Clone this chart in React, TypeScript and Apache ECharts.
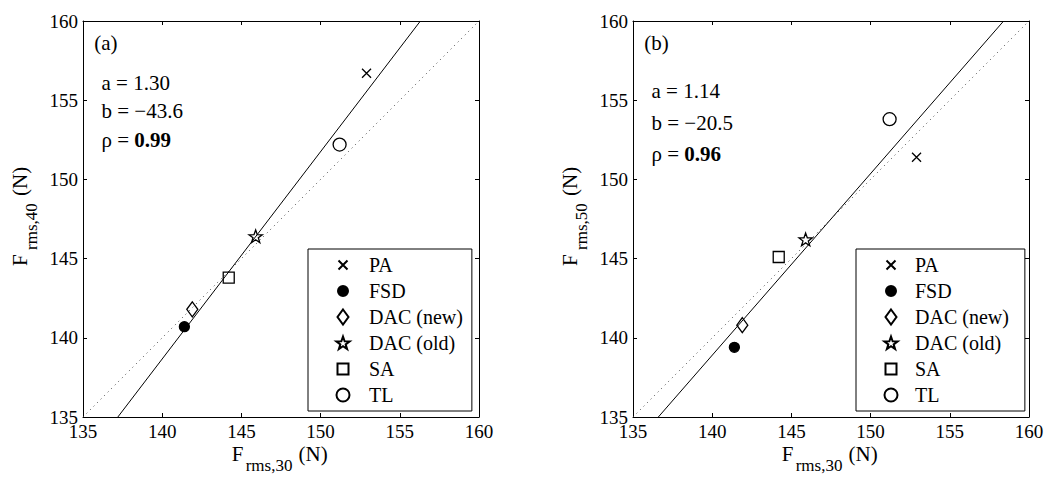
import React, { useEffect, useRef } from 'react';
import * as echarts from 'echarts';

// ---------- data ----------
const methods = ['PA', 'FSD', 'DAC (new)', 'DAC (old)', 'SA', 'TL'];
const frms30 = [152.9, 141.4, 141.9, 145.9, 144.2, 151.2];
const frms40 = [156.7, 140.7, 141.8, 146.4, 143.8, 152.2];
const frms50 = [151.4, 139.4, 140.8, 146.2, 145.1, 153.8];
const fitLine40 = [[137.2, 135], [156.3, 160]];
const fitLine50 = [[136.6, 135], [158.4, 160]];
const identityLine = [[135, 135], [160, 160]];
const axisTicks = [135, 140, 145, 150, 155, 160];
const panelLetters = ['(a)', '(b)'];
const slopeLabels = ['1.30', '1.14'];
const interceptLabels = ['\u221243.6', '\u221220.5'];
const rhoLabels = ['0.99', '0.96'];
const yNameSubs = ['rms,40', 'rms,50'];
const xNameSub = 'rms,30';

// ---------- styling ----------
const FONT = 'Liberation Serif';
const PAD = 'M0,0M16,16';
const symbols = [
  'path://' + PAD + 'M3.5,3.5L12.5,12.5M12.5,3.5L3.5,12.5',
  'path://' + PAD + 'M3,8A5,5,0,1,1,13,8A5,5,0,1,1,3,8Z',
  'path://' + PAD + 'M8,0.5L13.5,8L8,15.5L2.5,8Z',
  'path://' + PAD + 'M8,1.5L9.65,6.24L14.66,6.34L10.66,9.37L12.12,14.16L8,11.3L3.88,14.16L5.34,9.37L1.34,6.34L6.35,6.24Z',
  'path://' + PAD + 'M2.5,2.5L13.5,2.5L13.5,13.5L2.5,13.5Z',
  'path://' + PAD + 'M1.5,8A6.5,6.5,0,1,1,14.5,8A6.5,6.5,0,1,1,1.5,8Z',
];
const filled = [false, true, false, false, false, false];
const gridLefts = [83, 633];
const gridTop = 21;
const gridSize = 396;
const statRows = [
  [82.5, 111, 139.5],
  [91.2, 123, 153.6],
];

function txt(text: string, x: number, y: number, size: number, extra: any = {}) {
  return {
    type: 'text',
    x,
    y,
    silent: true,
    style: {
      text,
      fill: '#000',
      fontFamily: FONT,
      fontSize: size,
      align: 'left',
      verticalAlign: 'middle',
      textAlign: 'left',
      textVerticalAlign: 'middle',
      ...extra,
    },
  };
}

export default function App() {
  const ref = useRef<HTMLDivElement>(null);
  useEffect(() => {
    document.body.style.margin = '0';
    if (!ref.current) return;
    const chart = echarts.init(ref.current, undefined, { renderer: 'svg' });
    const min = axisTicks[0];
    const max = axisTicks[axisTicks.length - 1];
    const interval = axisTicks[1] - axisTicks[0];
    const labelStyle = { color: '#000', fontFamily: FONT, fontSize: 19 };
    const mkAxis = (gridIndex: number, position: string, showLabel: boolean, isX: boolean) => ({
      type: 'value',
      gridIndex,
      position,
      min,
      max,
      interval,
      axisLine: { show: true, onZero: false, lineStyle: { color: '#000', width: 1 } },
      axisTick: { show: true, inside: true, length: 4, lineStyle: { color: '#000', width: 1 } },
      axisLabel: { show: showLabel, margin: isX ? 5 : 5, ...labelStyle },
      splitLine: { show: false },
    });
    const xAxis: any[] = [];
    const yAxis: any[] = [];
    const grid: any[] = [];
    gridLefts.forEach((gl, p) => {
      grid.push({ left: gl, top: gridTop, width: gridSize, height: gridSize });
      xAxis.push(mkAxis(p, 'bottom', true, true));
      xAxis.push(mkAxis(p, 'top', false, true));
      yAxis.push(mkAxis(p, 'left', true, false));
      yAxis.push(mkAxis(p, 'right', false, false));
    });
    const panels = [frms40, frms50];
    const fits = [fitLine40, fitLine50];
    const series: any[] = [];
    panels.forEach((ys, p) => {
      series.push({
        type: 'line',
        xAxisIndex: 2 * p,
        yAxisIndex: 2 * p,
        data: identityLine,
        showSymbol: false,
        silent: true,
        lineStyle: { color: '#444', width: 1, type: [1, 4] },
        z: 1,
      });
      series.push({
        type: 'line',
        xAxisIndex: 2 * p,
        yAxisIndex: 2 * p,
        data: fits[p],
        showSymbol: false,
        silent: true,
        lineStyle: { color: '#000', width: 1 },
        z: 2,
      });
      methods.forEach((m, i) => {
        series.push({
          type: 'scatter',
          name: m,
          xAxisIndex: 2 * p,
          yAxisIndex: 2 * p,
          data: [[frms30[i], ys[i]]],
          symbol: symbols[i],
          symbolSize: 16,
          itemStyle: {
            color: filled[i] ? '#000' : 'rgba(0,0,0,0)',
            borderColor: '#000',
            borderWidth: 1.3,
            opacity: 1,
          },
          z: 3,
        });
      });
    });
    const legendBase = {
      data: methods,
      orient: 'vertical',
      top: 249,
      itemWidth: 16,
      itemHeight: 16,
      itemGap: 6,
      borderColor: '#000',
      borderWidth: 1,
      borderRadius: 0,
      backgroundColor: '#fff',
      selectedMode: false,
    };
    const legend = [
      {
        ...legendBase,
        left: 308,
        padding: [6, 9, 6, 26],
        textStyle: { color: '#000', fontFamily: FONT, fontSize: 20, padding: [0, 0, 0, 13] },
      },
      {
        ...legendBase,
        left: 856,
        padding: [6, 16, 6, 26],
        textStyle: { color: '#000', fontFamily: FONT, fontSize: 20, padding: [0, 0, 0, 11] },
      },
    ];
    const graphic: any[] = [];
    gridLefts.forEach((gl, p) => {
      graphic.push(txt(panelLetters[p], gl + 11.3, 43, 21));
      graphic.push(txt('a = ' + slopeLabels[p], gl + 18.5, statRows[p][0], 21));
      graphic.push(txt('b = ' + interceptLabels[p], gl + 18.5, statRows[p][1], 21));
      graphic.push(
        txt('{n|\u03c1 = }{b|' + rhoLabels[p] + '}', gl + 18.5, statRows[p][2], 21, {
          rich: {
            n: { fontFamily: FONT, fontSize: 21, fill: '#000' },
            b: { fontFamily: FONT, fontSize: 21, fontWeight: 'bold', fill: '#000' },
          },
        })
      );
      // x-axis name
      graphic.push(txt('F', gl + 148.7, 453.5, 21));
      graphic.push(txt(xNameSub, gl + 162.7, 465, 17));
      graphic.push(txt('(N)', gl + 215.5, 453.5, 21));
      // y-axis name (rotated)
      graphic.push({
        type: 'group',
        x: gl - 63.3,
        y: 266,
        rotation: Math.PI / 2,
        children: [
          txt('F', 0, 0, 21),
          txt(yNameSubs[p], 16, 11.5, 17),
          txt('(N)', 70, 0, 21),
        ],
      });
    });
    chart.setOption({
      animation: false,
      backgroundColor: '#fff',
      grid,
      xAxis,
      yAxis,
      series,
      legend,
      graphic,
    });
    return () => chart.dispose();
  }, []);
  return <div ref={ref} style={{ width: 1047, height: 478 }} />;
}
